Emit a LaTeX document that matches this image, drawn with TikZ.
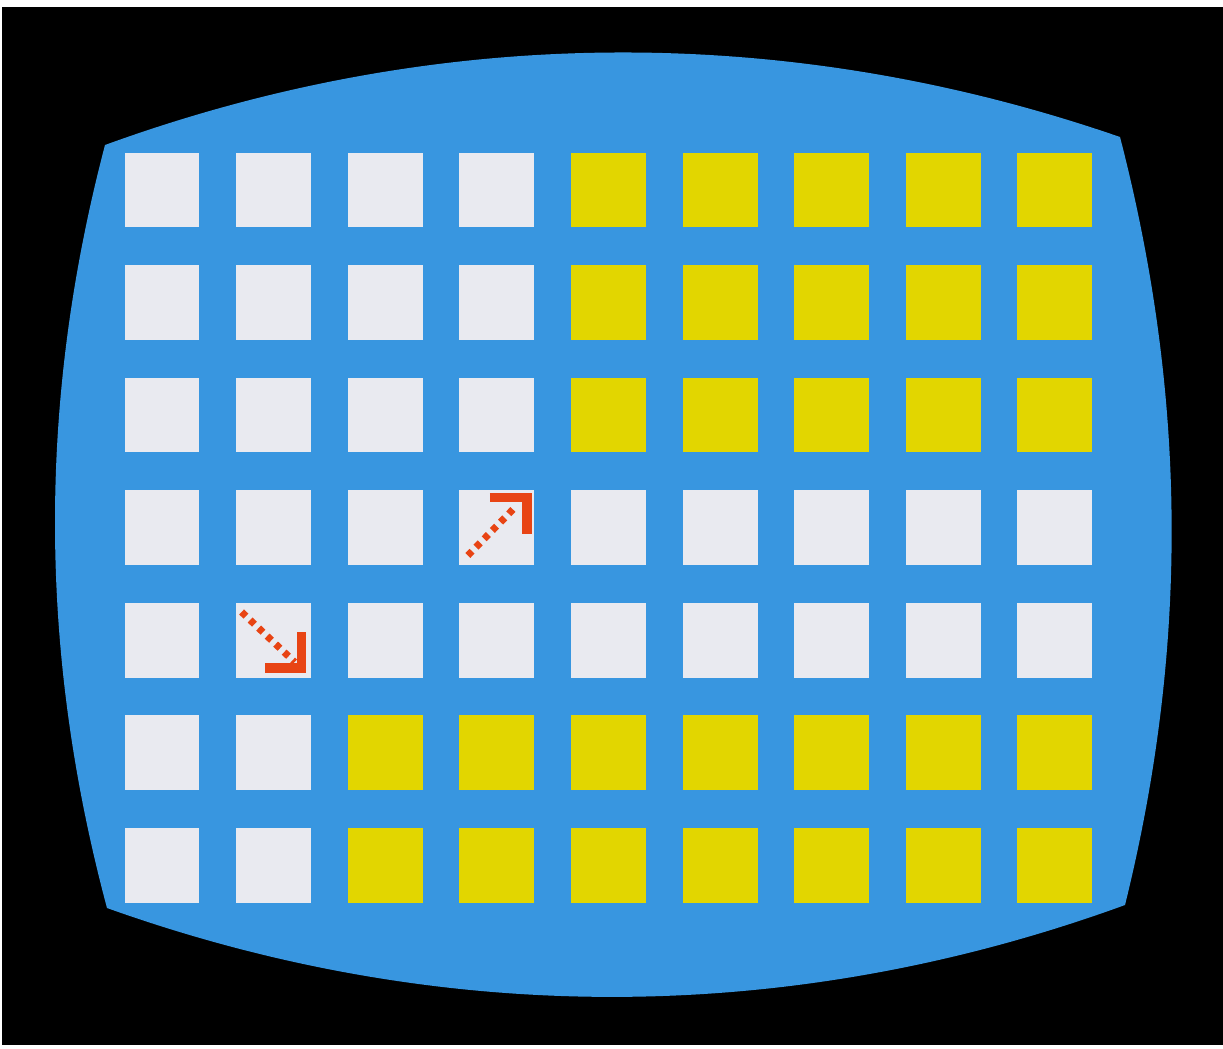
\documentclass[tikz,border=0pt]{standalone}
\usepackage{tikz}

\definecolor{screenblue}{RGB}{56,150,224}
\definecolor{cellwhite}{RGB}{233,234,240}
\definecolor{cellyellow}{RGB}{226,214,0}
\definecolor{arrowred}{RGB}{232,68,20}

\begin{document}
\begin{tikzpicture}[
    x={(0.02cm,0)}, y={(0,-0.02cm)},
    screen/.style={fill=screenblue},
    cell/.style={inner sep=0pt, minimum size=1.5cm},
    cell0/.style={cell, fill=cellwhite},
    cell1/.style={cell, fill=cellyellow},
    dotline/.style={arrowred, line width=0.14cm, dash pattern=on 0.12cm off 0.114cm},
    arrowhead/.style={arrowred, line width=0.19cm, miter limit=4}
]

% ---------- Parameters ----------
\def\xpitch{111.6}
\def\ypitch{112.5}
\def\xfirst{162}
\def\yfirst{190}

% ---------- Background ----------
\fill[black] (0,0) rectangle (1223,1048);
\fill[white] (0,0) rectangle (1223,7);
\fill[white] (0,1045) rectangle (1223,1048);
\fill[white] (0,0) rectangle (2,1048);

% ---------- Screen ----------
\fill[screen] (105,145)
    .. controls (440,23) and (790,23) .. (1120,137)
    .. controls (1188,400) and (1188,650) .. (1125,905)
    .. controls (790,1027) and (440,1027) .. (107,908)
    .. controls (38,650) and (38,400) .. (105,145) -- cycle;

% ---------- Cells ----------
\foreach \r in {1,...,7}{
  \foreach \c in {1,...,9}{
    \pgfmathtruncatemacro\isyel{((\r<4)&&(\c>4))||((\r>5)&&(\c>2))}
    \node[cell\isyel] (c-\r-\c) at ({\xfirst+(\c-1)*\xpitch},{\yfirst+(\r-1)*\ypitch}) {};
  }
}

% ---------- Arrow down-right ----------
\draw[dotline] ([shift={(-32,-28)}]c-5-2.center) -- ([shift={(21,22)}]c-5-2.center);
\draw[arrowhead] ([shift={(28,-8)}]c-5-2.center) -- ([shift={(28,28)}]c-5-2.center)
    -- ([shift={(-9,28)}]c-5-2.center);

% ---------- Arrow up-right ----------
\draw[dotline] ([shift={(-29,28)}]c-4-4.center) -- ([shift={(20,-22)}]c-4-4.center);
\draw[arrowhead] ([shift={(-7,-30)}]c-4-4.center) -- ([shift={(30,-30)}]c-4-4.center)
    -- ([shift={(30,6)}]c-4-4.center);

\end{tikzpicture}
\end{document}
